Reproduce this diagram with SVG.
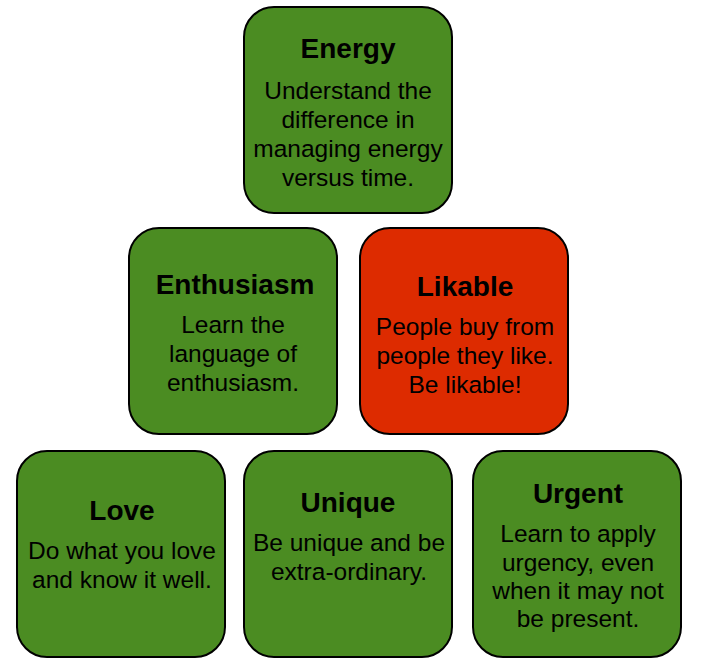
<svg xmlns="http://www.w3.org/2000/svg" width="703" height="665" viewBox="0 0 703 665">
<style>
.box{stroke:#000;stroke-width:2}
.g{fill:#4b8c22}
.r{fill:#dd2b00}
text{font-family:"Liberation Sans",Arial,Helvetica,sans-serif;fill:#000;text-anchor:middle}
.t{font-size:28px;font-weight:bold}
.b{font-size:24.5px}
</style>
<rect width="703" height="665" fill="#fff"/>
<g id="connectors"></g>
<g id="energy">
<rect class="box g" x="244" y="7" width="208" height="206" rx="30"/>
<text class="t" x="348" y="58">Energy</text>
<text class="b" x="348" y="99">Understand the</text>
<text class="b" x="348" y="128">difference in</text>
<text class="b" x="348" y="157">managing energy</text>
<text class="b" x="348" y="186">versus time.</text>
</g>
<g id="enthusiasm">
<rect class="box g" x="129" y="228" width="208" height="206" rx="30"/>
<text class="t" x="235" y="294">Enthusiasm</text>
<text class="b" x="233" y="333">Learn the</text>
<text class="b" x="233" y="362">language of</text>
<text class="b" x="233" y="391">enthusiasm.</text>
</g>
<g id="likable">
<rect class="box r" x="360" y="228" width="208" height="206" rx="30"/>
<text class="t" x="465" y="296">Likable</text>
<text class="b" x="465" y="335">People buy from</text>
<text class="b" x="465" y="364">people they like.</text>
<text class="b" x="465" y="393">Be likable!</text>
</g>
<g id="love">
<rect class="box g" x="17" y="451" width="208" height="206" rx="30"/>
<text class="t" x="122" y="520">Love</text>
<text class="b" x="122" y="559">Do what you love</text>
<text class="b" x="122" y="588">and know it well.</text>
</g>
<g id="unique">
<rect class="box g" x="244" y="451" width="208" height="206" rx="30"/>
<text class="t" x="348" y="512">Unique</text>
<text class="b" x="349" y="551">Be unique and be</text>
<text class="b" x="349" y="580">extra-ordinary.</text>
</g>
<g id="urgent">
<rect class="box g" x="473" y="451" width="208" height="206" rx="30"/>
<text class="t" x="578" y="503">Urgent</text>
<text class="b" x="578" y="542">Learn to apply</text>
<text class="b" x="578" y="571">urgency, even</text>
<text class="b" x="578" y="599">when it may not</text>
<text class="b" x="578" y="627">be present.</text>
</g>
</svg>
